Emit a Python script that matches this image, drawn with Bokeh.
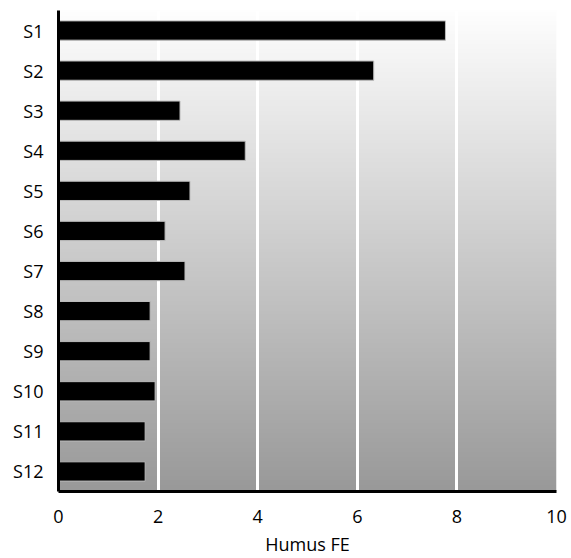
import numpy as np
from bokeh.plotting import figure
from bokeh.models import FactorRange, Range1d, FixedTicker, ColumnDataSource
from bokeh.embed import file_html
from bokeh.resources import INLINE

sites = ["S1", "S2", "S3", "S4", "S5", "S6", "S7", "S8", "S9", "S10", "S11", "S12"]
humus = [7.77, 6.33, 2.44, 3.75, 2.64, 2.14, 2.54, 1.84, 1.84, 1.94, 1.74, 1.74]
x_ticks = [0, 2, 4, 6, 8, 10]
x_label = "Humus FE"

FONT = "Open Sans"

p = figure(width=571, height=558, output_backend="svg", toolbar_location=None,
           y_range=FactorRange(factors=list(reversed(sites)), range_padding=0),
           x_range=Range1d(0, 10),
           min_border_left=58, min_border_right=15, min_border_top=10, min_border_bottom=67)
p.outline_line_color = None
p.background_fill_color = None
p.border_fill_color = "white"

# vertical gradient background (white top -> gray bottom)
n = 256
t = np.linspace(0, 1, n)  # bottom -> top in image rows
gray = (153 + (254 - 153) * t).astype(np.uint32)
img = np.empty((n, 2), dtype=np.uint32)
view = img.view(dtype=np.uint8).reshape((n, 2, 4))
for c in range(3):
    view[:, :, c] = gray[:, None]
view[:, :, 3] = 255
p.image_rgba(image=[img], x=0, y=0, dw=10, dh=len(sites), level="image")

src = ColumnDataSource(dict(site=sites, val=humus))
p.hbar(y="site", right="val", left=0, height=0.48, source=src,
       fill_color="black", line_color="#bbbbbb", line_width=1)

p.xgrid.ticker = FixedTicker(ticks=[2, 4, 6, 8])
p.xgrid.grid_line_color = "white"
p.xgrid.grid_line_width = 3
p.ygrid.grid_line_color = None

p.xaxis.ticker = FixedTicker(ticks=x_ticks)
p.xaxis.axis_label = x_label
for ax in (p.xaxis[0], p.yaxis[0]):
    ax.axis_line_color = "black"
    ax.axis_line_width = 3
    ax.major_tick_line_color = None
    ax.minor_tick_line_color = None
    ax.major_label_text_font = FONT
    ax.major_label_text_font_size = "18px"
    ax.major_label_text_color = "black"
p.xaxis.major_label_standoff = 12
p.yaxis.major_label_standoff = 9
p.xaxis.axis_label_text_font = FONT
p.xaxis.axis_label_text_font_size = "18px"
p.xaxis.axis_label_text_font_style = "normal"
p.xaxis.axis_label_text_color = "black"
p.xaxis.axis_label_standoff = 6

open("out.html", "w").write(file_html(p, INLINE))
